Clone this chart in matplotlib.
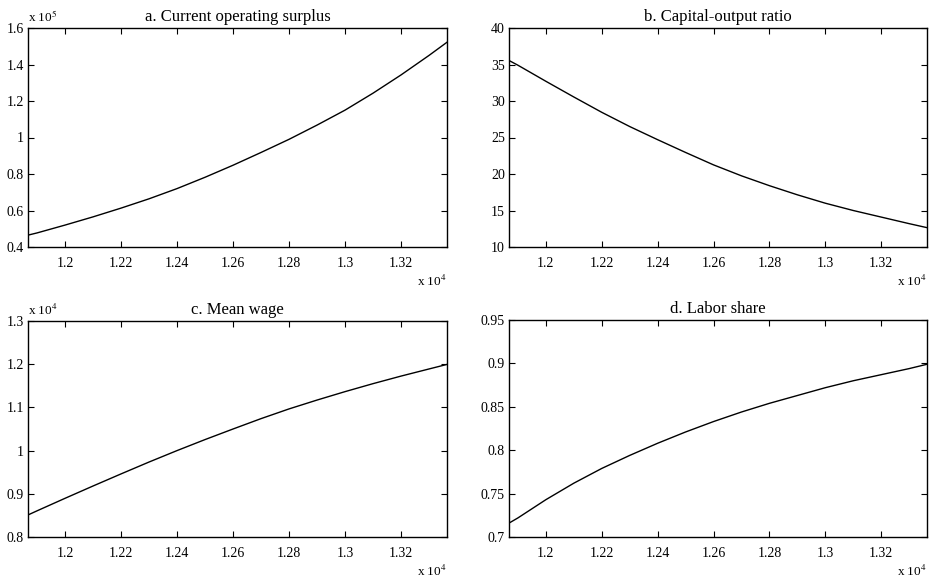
# Quatro painéis: excedente, razão capital-produto, salário médio e parcela do trabalho

import numpy as np
import matplotlib
matplotlib.use("Agg")
import matplotlib.pyplot as plt
from matplotlib.ticker import FuncFormatter

plt.rcParams['font.family'] = ['Liberation Serif', 'DejaVu Serif']
plt.rcParams['mathtext.fontset'] = 'stix'

# Valores (eixo x em unidades reais).
x = [11868, 11900, 12000, 12100, 12200, 12300, 12400, 12500, 12600,
     12700, 12800, 12900, 13000, 13100, 13200, 13300, 13364]
surplus = [46500, 47700, 52000, 56500, 61300, 66400, 72000, 78200, 84800,
           91800, 99000, 106800, 115000, 124300, 134300, 145000, 152200]
cap_output = [35.55, 34.9, 32.7, 30.55, 28.45, 26.5, 24.7, 22.95, 21.25,
              19.75, 18.4, 17.15, 16.0, 15.0, 14.1, 13.2, 12.65]
mean_wage = [8510, 8605, 8895, 9180, 9460, 9735, 10000, 10255, 10500,
             10740, 10965, 11170, 11365, 11550, 11725, 11890, 11995]
labor_share = [0.716, 0.722, 0.743, 0.762, 0.779, 0.794, 0.808, 0.821, 0.833,
               0.844, 0.854, 0.863, 0.872, 0.880, 0.887, 0.894, 0.899]

titles = ["a. Current operating surplus", "b. Capital-output ratio",
          "c. Mean wage", "d. Labor share"]
series = [surplus, cap_output, mean_wage, labor_share]
yticks = [np.arange(0.4e5, 1.61e5, 0.2e5), np.arange(10, 41, 5),
          np.arange(0.8e4, 1.31e4, 0.1e4), np.arange(0.7, 0.951, 0.05)]
ylims = [(0.4e5, 1.6e5), (10, 40), (0.8e4, 1.3e4), (0.7, 0.95)]
yscale = [1e5, 1, 1e4, 1]
xticks = np.arange(12000, 13201, 200)

# posições em pixels: esquerda, direita, topo, base
W, H = 932, 581
boxes = [(28, 447, 28, 247), (509, 927, 28, 247),
         (28, 447, 321, 537), (509, 927, 320, 537)]

fig = plt.figure(figsize=(W/100, H/100), dpi=100)

for i in range(4):
    l, r, t, b = boxes[i]
    ax = fig.add_axes([l/W, 1 - b/H, (r - l)/W, (b - t)/H])
    ax.plot(x, series[i], color="black", lw=1.0)
    ax.set_xlim(11868, 13364)
    ax.set_ylim(*ylims[i])
    ax.set_xticks(xticks)
    ax.set_yticks(yticks[i])
    ax.xaxis.set_major_formatter(FuncFormatter(lambda v, p: "%g" % round(v/1e4, 4)))
    s = yscale[i]
    ax.yaxis.set_major_formatter(FuncFormatter(lambda v, p, s=s: "%g" % round(v/s, 4)))
    ax.tick_params(direction="in", top=True, right=True, length=4, width=0.8,
                   labelsize=10)
    ax.tick_params(axis="x", pad=7)
    ax.tick_params(axis="y", pad=3)
    for sp in ax.spines.values():
        sp.set_linewidth(1.0)
    ax.set_title(titles[i], fontsize=12, pad=5)
    if s != 1:
        ax.text(0, 1.015, r"x 10$^{%d}$" % int(np.log10(s)), transform=ax.transAxes,
                ha="left", va="bottom", fontsize=9.5)
    # expoente do eixo x, 33 px abaixo do eixo
    ax.annotate(r"x 10$^{4}$", xy=(1, 0), xycoords="axes fraction",
                xytext=(0, -34), textcoords="offset pixels",
                ha="right", va="center", fontsize=9.5)

fig.savefig("out.png", dpi=100)
